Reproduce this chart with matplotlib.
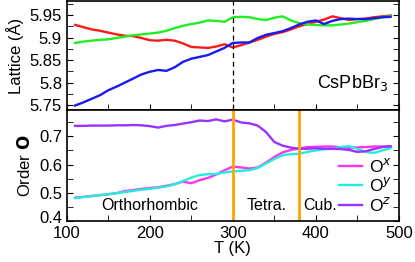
import matplotlib
matplotlib.use('Agg')
import matplotlib.pyplot as plt
import matplotlib.transforms as mtransforms
import numpy as np
from matplotlib.ticker import MultipleLocator

plt.rcParams['font.family'] = ['Liberation Sans', 'DejaVu Sans']

T = np.arange(110, 500, 10)

# lattice constants (Angstrom)
lat_red = [5.928, 5.923, 5.918, 5.915, 5.911, 5.907, 5.904, 5.903, 5.899, 5.894,
           5.893, 5.895, 5.893, 5.887, 5.879, 5.878, 5.877, 5.880, 5.885, 5.878,
           5.883, 5.889, 5.895, 5.902, 5.908, 5.912, 5.918, 5.925, 5.930, 5.935,
           5.940, 5.947, 5.943, 5.939, 5.941, 5.942, 5.945, 5.947, 5.949]
lat_green = [5.888, 5.891, 5.893, 5.895, 5.896, 5.899, 5.902, 5.905, 5.907, 5.909,
             5.911, 5.915, 5.921, 5.926, 5.930, 5.933, 5.938, 5.937, 5.935, 5.945,
             5.946, 5.945, 5.941, 5.939, 5.944, 5.947, 5.938, 5.932, 5.929, 5.928,
             5.927, 5.927, 5.929, 5.931, 5.934, 5.937, 5.941, 5.945, 5.948]
lat_blue = [5.749, 5.756, 5.764, 5.772, 5.783, 5.791, 5.800, 5.809, 5.818, 5.824,
            5.828, 5.826, 5.834, 5.846, 5.853, 5.857, 5.861, 5.869, 5.877, 5.888,
            5.889, 5.889, 5.899, 5.906, 5.910, 5.914, 5.921, 5.929, 5.935, 5.938,
            5.930, 5.937, 5.941, 5.942, 5.941, 5.941, 5.943, 5.945, 5.946]

# order parameters
Ox = [0.483, 0.486, 0.489, 0.492, 0.495, 0.499, 0.506, 0.510, 0.514, 0.517,
      0.520, 0.525, 0.531, 0.540, 0.534, 0.545, 0.553, 0.565, 0.580, 0.593,
      0.590, 0.586, 0.590, 0.607, 0.627, 0.643, 0.652, 0.657, 0.662, 0.663,
      0.664, 0.664, 0.661, 0.659, 0.661, 0.662, 0.664, 0.664, 0.664]
Oy = [0.481, 0.485, 0.488, 0.492, 0.495, 0.499, 0.503, 0.507, 0.511, 0.514,
      0.518, 0.523, 0.530, 0.542, 0.554, 0.563, 0.566, 0.567, 0.572, 0.576,
      0.578, 0.580, 0.588, 0.604, 0.620, 0.633, 0.637, 0.638, 0.645, 0.650,
      0.654, 0.656, 0.662, 0.665, 0.656, 0.645, 0.641, 0.650, 0.658]
Oz = [0.737, 0.737, 0.738, 0.738, 0.738, 0.739, 0.739, 0.740, 0.739, 0.736,
      0.731, 0.737, 0.740, 0.745, 0.750, 0.756, 0.754, 0.760, 0.753, 0.759,
      0.749, 0.746, 0.738, 0.715, 0.680, 0.667, 0.660, 0.656, 0.656, 0.658,
      0.656, 0.656, 0.655, 0.652, 0.645, 0.647, 0.655, 0.662, 0.665]

T_transitions = [300, 380]

fig = plt.figure(figsize=(4.15, 2.62), dpi=100)
ax1 = fig.add_axes([0.161, 0.58, 0.80, 0.416])
ax2 = fig.add_axes([0.161, 0.156, 0.80, 0.424], sharex=ax1)

ax1.plot(T, lat_red, color='#ff1a1a', lw=1.7)
ax1.plot(T, lat_green, color='#22ee22', lw=1.7)
ax1.plot(T, lat_blue, color='#1a1aee', lw=1.7)
ax1.axvline(300, color='k', ls='--', lw=0.9, dashes=(4, 3))
ax1.set_ylim(5.739, 5.981)
ax1.set_yticks([5.75, 5.8, 5.85, 5.9, 5.95])
ax1.set_yticklabels(['5.75', '5.8', '5.85', '5.9', '5.95'])
ax1.yaxis.set_minor_locator(MultipleLocator(0.025))
ax1.set_ylabel('Lattice (Å)', fontsize=12)
ax1.text(444, 5.80, 'CsPbBr$_3$', fontsize=13, ha='center', va='center')
plt.setp(ax1.get_xticklabels(), visible=False)

ax2.plot(T, Ox, color='#ff33ee', lw=1.7, label='O$^x$')
ax2.plot(T, Oy, color='#22eedd', lw=1.7, label='O$^y$')
ax2.plot(T, Oz, color='#9933ff', lw=1.7, label='O$^z$')
for t in T_transitions:
    ax2.axvline(t, color='#ffa500', lw=2)
ax2.set_ylim(0.4, 0.793)
ax2.set_yticks([0.4, 0.5, 0.6, 0.7])
ax2.yaxis.set_minor_locator(MultipleLocator(0.05))
ax2.set_ylabel(r'Order $\mathbf{O}$', fontsize=12)
ax2.set_xlabel('T (K)', fontsize=12, labelpad=0)
ax2.set_xlim(100, 500)
ax2.set_xticks([100, 200, 300, 400, 500])
ax2.xaxis.set_minor_locator(MultipleLocator(50))
ax2.text(200, 0.455, 'Orthorhombic', fontsize=11.5, ha='center', va='center')
ax2.text(341, 0.455, 'Tetra.', fontsize=11.5, ha='center', va='center')
ax2.text(405, 0.455, 'Cub.', fontsize=11.5, ha='center', va='center')
ax2.legend(loc='lower right', frameon=False, fontsize=12.5, handlelength=1.3,
           handletextpad=0.4, labelspacing=0.1, borderaxespad=0.0)

for ax in (ax1, ax2):
    ax.tick_params(which='both', direction='in', right=True, labelsize=12)
    ax.tick_params(which='major', length=4)
    ax.tick_params(which='minor', length=4)
    for s in ax.spines.values():
        s.set_linewidth(1.2)

# lift the lowest order label a little, as in the original
lbl = ax2.get_yticklabels()[0]
lbl.set_transform(lbl.get_transform() + mtransforms.ScaledTranslation(0, 4 / 100, fig.dpi_scale_trans))

fig.savefig('out.png', dpi=100)
